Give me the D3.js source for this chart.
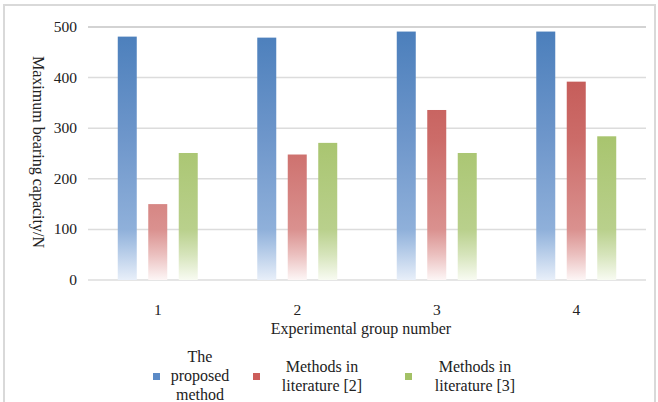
<!DOCTYPE html>
<html><head><meta charset="utf-8">
<script src="https://cdn.jsdelivr.net/npm/d3@7"></script>
<style>body{margin:0;background:#fff}svg{display:block}</style>
</head><body><svg id="c" width="658" height="402" font-family="'Liberation Serif','Times New Roman','DejaVu Serif',serif" fill="#222"></svg>
<script>
const groups = ["1","2","3","4"];
const seriesNames = [["The","proposed","method"],["Methods in","literature [2]"],["Methods in","literature [3]"]];
const proposed = [481, 479, 491, 491];
const lit2 = [150, 248, 336, 392];
const lit3 = [251, 271, 251, 284];
const yTicks = [0,100,200,300,400,500];
const series = [proposed, lit2, lit3];

const svg = d3.select("#c");
svg.append("rect").attr("x",4).attr("y",5).attr("width",651).attr("height",400).attr("fill","none").attr("stroke","#d9d9d9").attr("stroke-width",2);

const x0 = d3.scaleBand().domain(groups).range([88,646]);
const x1 = d3.scaleBand().domain([0,1,2]).range([0,x0.bandwidth()]).paddingInner(0.377).paddingOuter(0.976);
const y = d3.scaleLinear().domain([0,500]).range([280,27]);

const defs = svg.append("defs");
const grads = [
  [["0","#4a7ebb"],["0.45","#6f97cb"],["0.8","#8fb0da"],["0.86","#a9c3e4"],["1","#e8eff9"]],
  [["0","#c0504d"],["0.45","#cc6c69"],["0.8","#da918f"],["0.9","#ebc0bf"],["1","#fdf6f6"]],
  [["0","#9bbb59"],["0.45","#a9c570"],["0.8","#b9d08c"],["0.9","#d6e4bb"],["1","#f8fbf2"]]
];
grads.forEach((g,i)=>{
  const lg = defs.append("linearGradient").attr("id","g"+i).attr("gradientUnits","userSpaceOnUse")
    .attr("x1",0).attr("x2",0).attr("y1",y(500)).attr("y2",y(0));
  g.forEach(s=>lg.append("stop").attr("offset",s[0]).attr("stop-color",s[1]));
});

svg.append("g").selectAll("line").data(yTicks).join("line")
  .attr("x1",88).attr("x2",646).attr("y1",d=>y(d)).attr("y2",d=>y(d))
  .attr("stroke",d=>d===500?"#c4c4c4":"#dcdcdc").attr("stroke-width",1.5);

svg.append("g").selectAll("text").data(yTicks).join("text")
  .attr("x",77).attr("y",d=>y(d)+5).attr("text-anchor","end").attr("font-size",15.5).text(d=>d);

const gg = svg.append("g").selectAll("g").data(groups).join("g").attr("transform",d=>`translate(${x0(d)},0)`);
gg.selectAll("rect").data((d,gi)=>series.map((s,si)=>({si,v:s[gi]}))).join("rect")
  .attr("x",d=>x1(d.si)).attr("width",x1.bandwidth())
  .attr("y",d=>y(d.v)).attr("height",d=>y(0)-y(d.v))
  .attr("fill",d=>`url(#g${d.si})`);

svg.append("g").selectAll("text").data(groups).join("text")
  .attr("x",d=>x0(d)+x0.bandwidth()/2).attr("y",315).attr("text-anchor","middle").attr("font-size",15.5).text(d=>d);

svg.append("text").attr("x",361).attr("y",334).attr("text-anchor","middle").attr("font-size",16).text("Experimental group number");
svg.append("text").attr("transform","translate(33,152) rotate(90)").attr("text-anchor","middle").attr("font-size",16).text("Maximum bearing capacity/N");

const legX = [[153,200],[253,322],[405,475]];
const cols = ["#5b8ac6","#cc5d5a","#a3c166"];
seriesNames.forEach((lines,i)=>{
  svg.append("rect").attr("x",legX[i][0]).attr("y",373).attr("width",7).attr("height",7).attr("fill",cols[i]);
  const n = lines.length;
  const t = svg.append("text").attr("text-anchor","middle").attr("font-size",16);
  lines.forEach((l,k)=>{
    t.append("tspan").attr("x",legX[i][1]).attr("y",381 + (k-(n-1)/2)*19).text(l);
  });
});
</script></body></html>
